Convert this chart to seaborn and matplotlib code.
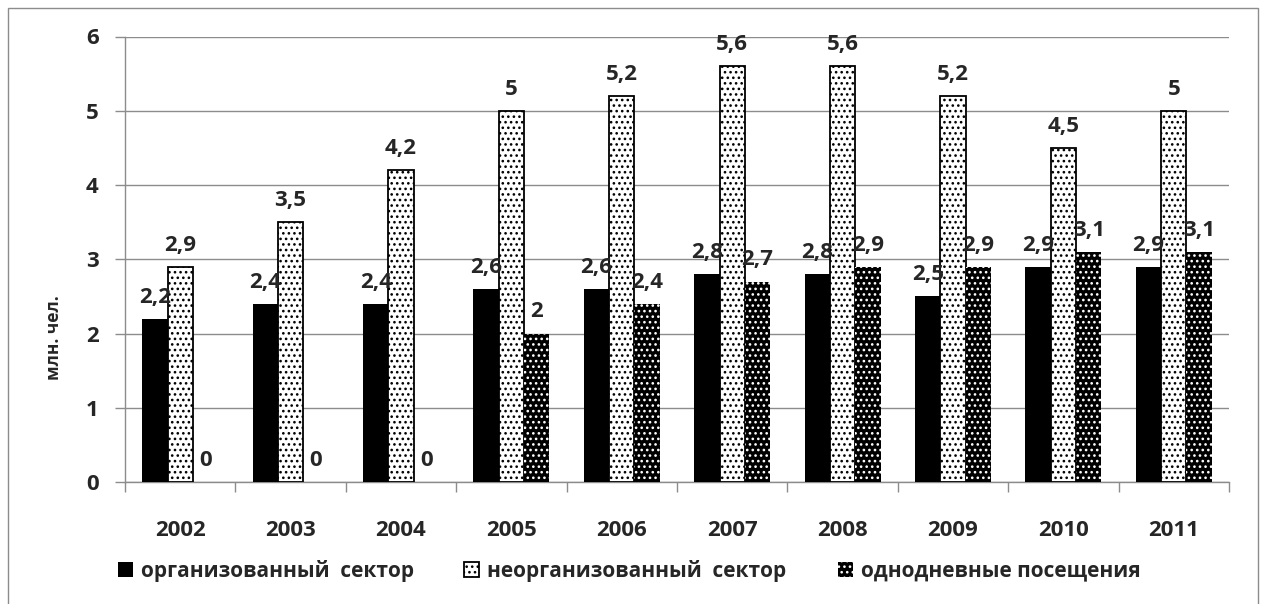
import matplotlib
matplotlib.use("Agg")
import matplotlib.pyplot as plt
import matplotlib.patches as mpatches
from matplotlib.ticker import FixedLocator
import seaborn as sns
import pandas as pd

years = ["2002", "2003", "2004", "2005", "2006", "2007", "2008", "2009", "2010", "2011"]
organized = [2.2, 2.4, 2.4, 2.6, 2.6, 2.8, 2.8, 2.5, 2.9, 2.9]
unorganized = [2.9, 3.5, 4.2, 5.0, 5.2, 5.6, 5.6, 5.2, 4.5, 5.0]
day_visits = [0, 0, 0, 2.0, 2.4, 2.7, 2.9, 2.9, 3.1, 3.1]
series_names = ["организованный  сектор", "неорганизованный  сектор", "однодневные посещения"]

df = pd.DataFrame({
    "year": years * 3,
    "value": organized + unorganized + day_visits,
    "series": [series_names[0]] * 10 + [series_names[1]] * 10 + [series_names[2]] * 10,
})

sns.set_style("white")
plt.rcParams["font.family"] = ["Open Sans", "DejaVu Sans"]
plt.rcParams["hatch.linewidth"] = 1.1

W, H = 1262, 604
fig = plt.figure(figsize=(W / 100, H / 100), dpi=100)
ax = fig.add_axes([125 / W, 1 - 482 / H, (1229 - 125) / W, (482 - 36.5) / H])

sns.barplot(data=df, x="year", y="value", hue="series", order=years,
            hue_order=series_names, palette=["black", "white", "black"],
            width=0.687, gap=0, legend=False, ax=ax, saturation=1)

# solid black / white with dark dots / black with light dots
styles = [
    dict(facecolor="black", edgecolor="black", hatch=None, lw=0),
    dict(facecolor="white", edgecolor="black", hatch="...", lw=1.3),
    dict(facecolor="black", edgecolor="white", hatch="...", lw=0),
]
for cont, st in zip(ax.containers, styles):
    for p in cont.patches:
        p.set_facecolor(st["facecolor"])
        p.set_edgecolor(st["edgecolor"])
        p.set_linewidth(st["lw"])
        if st["hatch"]:
            p.set_hatch(st["hatch"])
        p.set_zorder(3)

for cont, vals in zip(ax.containers, [organized, unorganized, day_visits]):
    labels = [f"{v:g}".replace(".", ",") for v in vals]
    ax.bar_label(cont, labels=labels, padding=8, fontsize=16, fontweight="bold",
                 zorder=5)

ax.set_ylim(0, 6)
ax.set_xlim(-0.5, 9.5)
ax.set_yticks(range(0, 7))
ax.yaxis.grid(True, color="#8c8c8c", lw=1)
ax.set_axisbelow(True)
for side in ["top", "right"]:
    ax.spines[side].set_visible(False)
for side in ["left", "bottom"]:
    ax.spines[side].set_color("#8c8c8c")
    ax.spines[side].set_linewidth(1)

ax.tick_params(axis="y", length=7, width=1, color="#8c8c8c", direction="out",
               labelsize=16, pad=12, left=True)
ax.tick_params(axis="x", which="major", length=0, labelsize=16, pad=27)
ax.xaxis.set_minor_locator(FixedLocator([i - 0.5 for i in range(11)]))
ax.tick_params(axis="x", which="minor", length=7, width=1, color="#8c8c8c",
               direction="out", bottom=True)
for lab in ax.get_xticklabels() + ax.get_yticklabels():
    lab.set_fontweight("bold")

ax.set_xlabel("")
ax.set_ylabel("млн. чел.", fontsize=12.5, fontweight="bold")
ax.yaxis.set_label_coords((63 - 125) / 1104, (482 - 338) / 445.5)

# one legend entry per series, laid out along the bottom
legend_x = [118, 464, 838]
for cont, name, lx in zip(ax.containers, series_names, legend_x):
    fig.legend(handles=[cont], labels=[name], loc="center left",
               bbox_to_anchor=(lx / W, 1 - 571 / H), frameon=False,
               borderpad=0, borderaxespad=0, handlelength=0.7, handleheight=0.7,
               handletextpad=0.4, prop=dict(size=15, weight="bold"))

border = mpatches.Rectangle((8 / W, -0.05), 1250 / W, 1.05 - 8 / H,
                            transform=fig.transFigure, fill=False,
                            edgecolor="#8c8c8c", lw=1)
fig.add_artist(border)

fig.savefig("out.png", dpi=100)
